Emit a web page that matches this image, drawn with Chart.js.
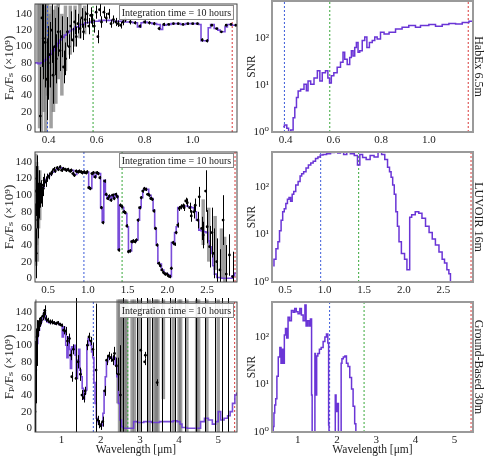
<!DOCTYPE html>
<html>
<head>
<meta charset="utf-8">
<title>Spectra and SNR</title>
<script src="https://cdn.jsdelivr.net/npm/chart.js@4.4.1/dist/chart.umd.min.js"></script>
<style>
  html, body { margin: 0; padding: 0; background: #fff; }
  #wrap { position: relative; width: 485px; height: 459px; overflow: hidden; }
  canvas { position: absolute; }
</style>
</head>
<body>
<div id="wrap">
  <canvas id="habexSpec" width="245" height="148" style="left:0;top:0"></canvas>
  <canvas id="habexSnrChart" width="240" height="148" style="left:245px;top:0"></canvas>
  <canvas id="luvoirSpec" width="245" height="150" style="left:0;top:148px"></canvas>
  <canvas id="luvoirSnrChart" width="240" height="150" style="left:245px;top:148px"></canvas>
  <canvas id="groundSpec" width="245" height="161" style="left:0;top:298px"></canvas>
  <canvas id="groundSnrChart" width="240" height="161" style="left:245px;top:298px"></canvas>
</div>
<script>
// ---- HabEx 6.5m ----
const habexWl = [0.34,0.35,0.36,0.37,0.38,0.39,0.40,0.41,0.42,0.43,0.44,0.45,0.46,0.47,0.48,0.49,0.50,
  0.52,0.54,0.56,0.58,0.60,0.62,0.64,0.66,0.68,0.70,0.72,0.74,0.76,0.78,0.79,0.80,0.82,0.84,0.86,0.87,0.88,
  0.90,0.92,0.94,0.96,0.98,1.00,1.02,1.03,1.04,1.06,1.07,1.08,1.10,1.11,1.12,1.13,1.14,1.15,1.16,1.17,1.18];
const habexModel = [80,80,79,80,82,84,87,91,95,100,104,108,111,114,117,119,121,
  124,127,129,130,131,132,132,132,131,131,130,130,129,124,129,130,129,128,127,121,126,
  127,128,128,127,128,128,128,127,107,107,123,127,122,120,118,118,124,127,127,126,126];
const habexObsWl = [0.365,0.372,0.378,0.385,0.392,0.398,0.405,0.412,0.418,0.425,
  0.432,0.44,0.447,0.455,0.462,0.47,0.478,0.485,0.492,0.50,
  0.508,0.515,0.522,0.53,0.538,0.545,0.552,0.56,0.567,0.575,
  0.582,0.59,0.598,0.605,0.612,0.62,0.63,0.64,0.65,0.66,
  0.67,0.68,0.69,0.70,0.71,0.72,0.74,0.76,0.78,0.80,
  0.82,0.84,0.86,0.88,0.90,0.92,0.94,0.96,0.98,1.00,
  1.02,1.04,1.06,1.08,1.10,1.12,1.14,1.16,1.18];
const habexObs = [15,135,110,105,60,80,90,120,65,100,
  85,118,95,112,75,85,118,100,125,108,
  130,112,128,122,135,118,133,140,125,138,
  132,125,142,112,145,130,142,135,140,128,
  133,130,128,126,130,133,130,129,125,130,
  129,128,122,127,127,128,128,127,128,128,
  128,108,107,126,122,118,126,127,126];
const habexErr = [60,60,50,55,50,45,40,40,35,35,
  30,30,25,25,20,20,18,15,18,15,
  15,12,12,12,12,10,10,12,10,10,
  8,8,8,8,8,7,7,6,6,5,
  5,5,4,4,4,3,3,2,2,2,
  2,2,2,2,1,1,1,1,1,1,
  1,2,2,1,1,1,1,1,1];
const habexGrayWl = [0.355,0.362,0.37,0.38,0.388,0.395,0.402,0.41,0.42,0.43,0.44,0.455,0.47,0.49,0.51,0.53,0.55];
const habexGrayLo = [80,0,-5,20,-5,40,50,0,20,30,60,40,70,90,100,110,115];
const habexGrayHi = [155,155,155,150,155,155,140,150,145,150,155,140,150,150,150,155,150];
const habexSnrWl = [0.39,0.40,0.41,0.415,0.428,0.435,0.442,0.449,0.456,0.47,
  0.484,0.49,0.498,0.512,0.526,0.54,0.547,0.56,0.574,0.58,
  0.588,0.595,0.609,0.623,0.637,0.644,0.651,0.665,0.672,0.679,
  0.686,0.693,0.70,0.707,0.714,0.728,0.735,0.746,0.756,0.77,
  0.777,0.79,0.805,0.82,0.847,0.874,0.902,0.93,0.958,0.972,
  0.986,1.014,1.042,1.07,1.098,1.126,1.154,1.182];
const habexSnr = [1.3,1.4,1.2,0.5,1.1,2.0,3.3,5.4,7.4,8.1,
  10.3,7.5,12,10.3,14,20,12,18,20,14,
  11,15.6,18,23.6,30,49,35,27,38,53,
  41,62,79,49,53,87,103,62,79,87,
  103,94,130,120,130,152,166,182,166,182,
  182,190,175,190,201,195,210,222];
const habexMarks = [0.395, 0.585, 1.165];

// ---- LUVOIR 16m ----
const luvoirWl = [0.34,0.36,0.38,0.40,0.42,0.44,0.46,0.48,0.50,0.53,
  0.56,0.60,0.65,0.70,0.75,0.80,0.84,0.88,0.92,0.96,
  1.00,1.02,1.04,1.06,1.09,1.12,1.15,1.17,1.19,1.21,
  1.23,1.25,1.27,1.29,1.31,1.33,1.35,1.37,1.39,1.40,
  1.42,1.44,1.46,1.48,1.50,1.52,1.54,1.56,1.59,1.62,
  1.64,1.66,1.68,1.70,1.72,1.75,1.78,1.81,1.83,1.85,
  1.87,1.89,1.91,1.94,1.97,2.00,2.02,2.04,2.06,2.08,
  2.10,2.12,2.14,2.17,2.20,2.24,2.28,2.32,2.35,2.38,
  2.41,2.44,2.47,2.50,2.52,2.54,2.56,2.58,2.60,2.64,
  2.70,2.76,2.80,2.83,2.86];
const luvoirModel = [78,82,88,95,103,110,115,119,122,125,
  128,131,133,131,130,130,125,129,128,127,
  128,108,108,127,122,127,126,85,68,118,
  100,96,99,95,100,97,101,99,35,87,
  87,85,80,78,62,32,33,45,44,46,
  70,85,97,106,108,107,100,96,82,60,
  40,18,17,10,6,5,4,2,43,42,
  55,62,85,86,87,87,86,85,80,70,
  58,57,56,55,45,38,30,15,5,1,
  0,0,0,3,6];
const luvoirObsWl = [0.34,0.345,0.35,0.355,0.36,0.365,0.37,0.375,0.38,0.39,
  0.40,0.41,0.42,0.43,0.44,0.45,0.47,0.49,0.51,0.53,
  0.55,0.57,0.59,0.61,0.63,0.65,0.67,0.69,0.71,0.73,
  0.75,0.77,0.79,0.81,0.83,0.85,0.87,0.89,0.91,0.93,
  0.95,0.97,0.99,1.01,1.03,1.05,1.07,1.09,1.11,1.13,
  1.15,1.17,1.19,1.21,1.23,1.25,1.27,1.29,1.31,1.33,
  1.35,1.37,1.39,1.41,1.43,1.45,1.47,1.49,1.51,1.53,
  1.55,1.57,1.59,1.61,1.63,1.65,1.67,1.69,1.71,1.73,
  1.75,1.77,1.79,1.81,1.83,1.85,1.87,1.89,1.91,1.93,
  1.95,1.97,1.99,2.01,2.03,2.05,2.07,2.09,2.11,2.13,
  2.15,2.17,2.19,2.21,2.23,2.25,2.28,2.30,2.33,2.35,
  2.38,2.40,2.43,2.45,2.48,2.50,2.53,2.56,2.58,2.62,
  2.66,2.70,2.74,2.78,2.82];
const luvoirObs = [55,105,30,120,85,100,70,95,110,90,
  100,104,98,112,108,118,116,121,123,126,
  128,131,129,133,131,134,130,132,131,130,
  131,129,130,126,124,129,128,129,128,127,
  128,127,128,109,108,126,127,122,127,126,
  121,85,67,117,101,96,99,94,100,96,
  101,98,34,88,86,80,79,63,32,33,
  44,45,44,46,70,85,97,105,108,107,
  101,100,96,95,81,60,40,18,15,10,
  7,5,5,3,2,12,43,41,55,64,
  84,86,87,85,93,91,85,75,80,88,
  70,98,60,52,105,62,38,55,30,20,
  10,70,5,28,2];
const luvoirErr = [35,30,30,28,25,25,22,20,20,18,
  15,14,12,10,9,8,6,5,4,3,
  3,3,2,2,2,2,2,2,2,2,
  2,2,2,2,2,2,2,2,2,2,
  2,2,2,2,2,2,2,2,2,2,
  2,2,2,2,2,2,2,2,2,2,
  2,2,2,2,2,2,2,2,2,2,
  2,2,2,2,2,2,2,2,2,2,
  2,2,2,2,2,2,2,2,2,2,
  2,2,2,2,2,2,2,2,2,3,
  3,3,3,4,4,5,6,7,8,8,
  10,12,14,16,25,20,25,30,30,28,
  25,30,35,25,30];
const luvoirGrayWl = [0.345,0.355,0.365,0.38,0.395,2.45,2.52,2.6,2.68,2.72];
const luvoirGrayLo = [15,40,20,60,70,40,20,10,0,-5];
const luvoirGrayHi = [150,140,135,125,130,95,85,75,60,50];
const luvoirSnrWl = [0.35,0.37,0.40,0.42,0.44,0.46,0.48,0.50,0.52,0.54,
  0.56,0.58,0.60,0.62,0.65,0.68,0.70,0.72,0.75,0.78,
  0.81,0.84,0.87,0.90,0.93,0.96,1.00,1.05,1.10,1.15,
  1.18,1.22,1.26,1.30,1.35,1.40,1.43,1.46,1.50,1.55,
  1.60,1.65,1.70,1.74,1.78,1.81,1.83,1.85,1.87,1.89,
  1.91,1.93,1.95,1.99,2.03,2.05,2.07,2.08,2.12,2.17,
  2.21,2.25,2.30,2.34,2.38,2.42,2.47,2.50,2.53,2.56,
  2.58,2.60];
const luvoirSnr = [2.2,3,5,7,12,20,30,35,45,55,
  60,50,70,80,110,130,170,190,210,250,
  290,320,350,400,430,470,480,500,530,550,
  520,540,480,540,500,460,290,480,420,380,
  460,430,540,480,380,260,210,160,110,70,
  30,15,7,4,3,1.8,1.8,23,26,30,
  28,22,15,11,8,6,4.3,3,2.5,1.8,
  1.5,0.5];
const luvoirMarks = [0.95, 1.43, 2.85];

// ---- Ground-Based 30m ----
const groundWl = [0.32,0.34,0.36,0.38,0.40,0.42,0.45,0.48,0.51,0.54,
  0.57,0.60,0.65,0.70,0.75,0.80,0.85,0.90,0.95,1.00,
  1.03,1.06,1.09,1.12,1.15,1.18,1.21,1.24,1.27,1.30,
  1.33,1.36,1.39,1.42,1.45,1.48,1.51,1.54,1.57,1.60,
  1.63,1.66,1.69,1.72,1.75,1.78,1.81,1.84,1.87,1.90,
  1.93,1.96,2.00,2.04,2.07,2.10,2.13,2.16,2.20,2.25,
  2.30,2.35,2.39,2.43,2.47,2.51,2.55,2.60,2.70,2.80,
  2.88,3.00,3.20,3.40,3.60,3.80,3.90,4.00,4.05,4.10,
  4.30,4.50,4.60,4.70,4.80,4.90,4.97,5.03,5.10,5.20,
  5.28,5.33,5.40,5.45,5.49];
const groundModel = [78,84,92,102,112,118,124,128,132,136,
  140,130,128,127,128,127,126,127,125,124,
  110,122,118,100,85,110,95,72,98,95,
  100,88,60,82,95,70,62,48,35,42,
  46,100,108,105,100,92,85,55,30,12,
  8,5,4,3,18,45,62,80,85,86,
  84,85,76,62,30,10,2,0,0,0,
  8,7,8,7,8,8,9,8,5,1,
  0,0,8,12,10,5,8,20,10,12,
  15,20,30,40,42];
const groundObsWl = [0.32,0.33,0.34,0.35,0.36,0.37,0.38,0.40,0.42,0.45,
  0.48,0.52,0.55,0.57,0.60,0.65,0.70,0.75,0.80,0.85,
  0.90,0.95,1.00,1.05,1.10,1.15,1.20,1.23,1.26,1.30,
  1.37,1.42,1.48,1.52,1.56,1.60,1.66,1.70,1.75,1.80,
  1.88,1.92,1.96,2.00,2.05,2.10,2.15,2.20,2.25,2.30,
  2.35,2.40,2.45,2.50,2.58,2.92,3.02,3.12,3.14,3.18,
  3.31,3.44,3.56,3.78,3.90,4.16,4.42,4.67,4.93,5.10,
  5.25];
const groundObs = [20,55,70,90,100,110,115,120,125,128,
  130,135,138,142,132,130,128,128,127,126,
  127,125,124,118,117,105,108,88,62,95,
  60,80,65,40,37,45,100,110,105,95,
  70,10,5,3,8,45,82,87,85,82,
  90,75,65,40,-150,250,94,80,88,-120,
  260,55,-150,240,-200,260,-140,250,-160,240,
  -130];
const groundErr = [60,50,40,30,25,20,15,10,8,6,
  5,5,5,6,4,3,3,3,2,2,
  2,2,2,5,5,6,6,6,6,6,
  400,8,8,6,6,5,6,5,5,8,
  80,5,5,5,6,6,6,5,5,6,
  8,10,20,60,400,300,500,4,4,400,
  300,4,400,300,400,300,350,300,380,300,
  350];
const groundGrayWl = [0.32,2.44,2.48,2.52,2.56,2.62,2.66,2.8,2.86,2.98,3.24,3.38,3.42,3.46,3.6,3.85,4.0,4.04,4.2,4.45,4.5,4.71,5.0];
const groundGrayLo = [-5,30,-5,-5,-5,-5,-5,-5,-5,-5,-5,-5,-5,-5,35,-5,-5,-5,-5,-5,-5,-5,-5];
const groundGrayHi = [155,155,155,155,155,155,155,155,155,155,155,155,155,155,155,155,155,155,155,155,155,155,155];
const groundSnrWl = [0.36,0.38,0.40,0.42,0.45,0.48,0.52,0.56,0.58,0.61,
  0.64,0.67,0.70,0.73,0.77,0.81,0.86,0.90,0.94,0.98,
  1.03,1.07,1.11,1.16,1.20,1.22,1.27,1.30,1.34,1.36,
  1.37,1.43,1.44,1.46,1.47,1.49,1.53,1.57,1.62,1.67,
  1.71,1.75,1.78,1.79,1.80,1.95,1.96,1.99,2.02,2.05,
  2.10,2.11,2.14,2.18,2.22,2.26,2.30,2.35,2.39,2.43,
  2.47,2.49];
const groundSnr = [0.5,1.3,2.5,3.7,5,15,38,60,28,55,
  28,110,150,95,260,220,360,330,400,340,
  310,400,290,220,470,170,220,170,240,6,
  0.5,0.5,45,10,6,40,45,55,60,80,
  100,115,75,1.4,0.5,0.5,6,2.7,4,0.5,
  0.5,28,35,38,40,28,24,14,8,3.5,
  1.5,0.5];
const groundMarks = [1.81, 2.69, 5.42];

// tick values
const habexTicks = [0.4, 0.6, 0.8, 1.0];
const luvoirTicks = [0.5, 1.0, 1.5, 2.0, 2.5];
const groundTicks = [1, 2, 3, 4, 5];
const fluxTicks = [0, 20, 40, 60, 80, 100, 120, 140];
const snrTicks = [1, 10, 100];
const snrTickLabels = ['10⁰', '10¹', '10²'];

// ---- common styling ----
Chart.defaults.font.family = "'Liberation Serif', 'DejaVu Serif', serif";
Chart.defaults.font.size = 11;
Chart.defaults.color = '#222';

const modelColor = 'rgba(108, 58, 214, 0.9)';
const snrColor = '#6a35d6';
const markColors = ['#3b5bd9', '#38a83a', '#d93a3a'];
const FLUX_MIN = -4.5, FLUX_MAX = 152;

function pts(xs, ys) {
    return xs.map((v, i) => ({ x: v, y: ys[i] }));
}

// dashed vertical markers as tiny two-point datasets
function markSets(marks, lo, hi) {
    return marks.map((m, i) => ({
        data: [{ x: m, y: lo }, { x: m, y: hi }],
        borderColor: markColors[i],
        borderWidth: 1,
        borderDash: [2, 2],
        pointRadius: 0,
        clip: 0,
        order: 5
    }));
}

// error bars: gray wide ones under the lines, black thin ones on top
// (overTop lets the bars poke a few px above the frame, as in the bottom panel)
function makeBars(b) {
    function clipArea(chart) {
        const a = chart.chartArea;
        const extra = b.overTop || 0;
        chart.ctx.beginPath();
        chart.ctx.rect(a.left, a.top - extra, a.right - a.left, a.bottom - a.top + extra);
        chart.ctx.clip();
    }
    return {
        id: 'errorBars',
        beforeDatasetsDraw(chart) {
            const { ctx, scales: { x, y } } = chart;
            ctx.save();
            clipArea(chart);
            ctx.strokeStyle = 'rgba(120,120,120,0.7)';
            ctx.lineWidth = 3.5;
            b.grayWl.forEach((w, i) => {
                const px = x.getPixelForValue(w);
                ctx.beginPath();
                ctx.moveTo(px, y.getPixelForValue(b.grayLo[i]));
                ctx.lineTo(px, y.getPixelForValue(b.grayHi[i]));
                ctx.stroke();
            });
            ctx.restore();
        },
        afterDatasetsDraw(chart) {
            const { ctx, scales: { x, y } } = chart;
            ctx.save();
            clipArea(chart);
            ctx.strokeStyle = '#000';
            ctx.lineWidth = 1;
            b.wl.forEach((w, i) => {
                const px = Math.round(x.getPixelForValue(w)) + 0.5;
                ctx.beginPath();
                ctx.moveTo(px, y.getPixelForValue(b.val[i] - b.err[i]));
                ctx.lineTo(px, y.getPixelForValue(b.val[i] + b.err[i]));
                ctx.stroke();
            });
            ctx.restore();
        }
    };
}

// "Integration time" box in the upper right corner
function makeNote(text) {
    return {
        id: 'noteBox',
        afterDraw(chart) {
            const { ctx, chartArea: a } = chart;
            const w = 115, h = 15;
            const left = a.right - 3 - w, top = a.top + 1;
            ctx.save();
            ctx.fillStyle = 'rgba(255,255,255,0.92)';
            ctx.fillRect(left, top, w, h);
            ctx.strokeStyle = '#888';
            ctx.lineWidth = 1;
            ctx.strokeRect(left + 0.5, top + 0.5, w - 1, h - 1);
            ctx.fillStyle = '#222';
            ctx.font = "10px 'Liberation Serif', 'DejaVu Serif', serif";
            ctx.textAlign = 'center';
            ctx.textBaseline = 'middle';
            ctx.fillText(text, left + w / 2, top + h / 2 + 0.5);
            ctx.restore();
        }
    };
}

function makeFrame(color, width) {
    return {
        id: 'frame',
        afterDatasetsDraw(chart) {
            const { ctx, chartArea: a } = chart;
            ctx.save();
            ctx.strokeStyle = color;
            ctx.lineWidth = width;
            ctx.strokeRect(a.left, a.top, a.right - a.left, a.bottom - a.top);
            ctx.restore();
        }
    };
}

function fixedWidth(w) {
    return function (axis) { axis.width = w; axis.paddingTop = 0; axis.paddingBottom = 0; };
}
function fixedHeight(h) {
    return function (axis) { axis.height = h; axis.paddingLeft = 0; axis.paddingRight = 0; };
}

function xAxis(range, ticks, decimals, height, withTitle) {
    return {
        type: 'linear',
        min: range[0], max: range[1],
        bounds: 'data',
        grid: { display: false, drawTicks: false },
        border: { display: false },
        ticks: {
            padding: 2, maxRotation: 0, autoSkip: false,
            callback: v => v.toFixed(decimals)
        },
        afterBuildTicks: s => { s.ticks = ticks.map(v => ({ value: v })); },
        afterFit: fixedHeight(height),
        title: {
            display: withTitle,
            text: 'Wavelength [μm]',
            font: { size: 11.5 },
            padding: { top: 0, bottom: 2 }
        }
    };
}

function specChart(id, o) {
    return new Chart(document.getElementById(id), {
        type: 'line',
        data: {
            datasets: [
                {
                    data: pts(o.obsWl, o.obs), showLine: false,
                    pointRadius: 1.4, pointBackgroundColor: '#000', pointBorderWidth: 0,
                    clip: 0, order: 0
                },
                {
                    data: pts(o.wl, o.model), borderColor: modelColor, borderWidth: 1.6,
                    pointRadius: 0, stepped: 'middle', clip: 0, order: 1
                },
                ...markSets(o.marks, FLUX_MIN, FLUX_MAX)
            ]
        },
        options: {
            responsive: false,
            animation: false,
            layout: { padding: { top: o.top, right: 8, left: 0, bottom: 0 } },
            plugins: { legend: { display: false }, tooltip: { enabled: false } },
            scales: {
                x: xAxis(o.range, o.ticks, o.decimals, o.xHeight, o.xTitle),
                y: {
                    type: 'linear', min: FLUX_MIN, max: FLUX_MAX, bounds: 'data',
                    grid: { display: false, drawTicks: false },
                    border: { display: false },
                    ticks: { padding: 3 },
                    afterBuildTicks: s => { s.ticks = fluxTicks.map(v => ({ value: v })); },
                    afterFit: fixedWidth(35),
                    title: {
                        display: true, text: 'Fₚ/Fₛ (×10⁹)',
                        font: { size: 13 }, padding: { top: 2, bottom: 0 }
                    }
                }
            }
        },
        plugins: [
            makeBars({ wl: o.obsWl, val: o.obs, err: o.err, grayWl: o.grayWl, grayLo: o.grayLo,
                       grayHi: o.grayHi, overTop: o.overTop }),
            makeFrame('#444', 1),
            makeNote('Integration time = 10 hours')
        ]
    });
}

function snrChart(id, o) {
    return new Chart(document.getElementById(id), {
        type: 'line',
        data: {
            datasets: [
                {
                    data: pts(o.wl, o.snr), borderColor: snrColor, borderWidth: 1.5,
                    pointRadius: 0, stepped: 'middle', clip: 0, order: 0
                },
                ...markSets(o.marks, 1, o.max)
            ]
        },
        options: {
            responsive: false,
            animation: false,
            layout: { padding: { top: o.top, right: 0, left: 0, bottom: 0 } },
            plugins: { legend: { display: false }, tooltip: { enabled: false } },
            scales: {
                x: xAxis(o.range, o.ticks, o.decimals, o.xHeight, o.xTitle),
                y: {
                    type: 'logarithmic', min: 1, max: o.max, bounds: 'data',
                    grid: { display: false, drawTicks: false },
                    border: { display: false },
                    ticks: { padding: 3, callback: v => snrTickLabels[snrTicks.indexOf(v)] },
                    afterBuildTicks: s => { s.ticks = snrTicks.map(v => ({ value: v })); },
                    afterFit: fixedWidth(27),
                    title: { display: true, text: 'SNR', font: { size: 11.5 }, padding: 0 }
                },
                side: {
                    type: 'linear', position: 'right', min: 0, max: 1,
                    grid: { display: false, drawTicks: false },
                    border: { display: false },
                    ticks: { display: false },
                    afterFit: fixedWidth(12),
                    title: { display: true, text: o.label, font: { size: 12 }, padding: 0 }
                }
            }
        },
        plugins: [makeFrame('#9a9a9a', 2)]
    });
}

// ---- build the six panels ----
specChart('habexSpec', {
    wl: habexWl, model: habexModel, obsWl: habexObsWl, obs: habexObs, err: habexErr,
    grayWl: habexGrayWl, grayLo: habexGrayLo, grayHi: habexGrayHi,
    marks: habexMarks, range: [0.343, 1.185], ticks: habexTicks, decimals: 1,
    top: 1, xHeight: 16, xTitle: false
});
snrChart('habexSnrChart', {
    wl: habexSnrWl, snr: habexSnr, marks: habexMarks, max: 600, label: 'HabEx 6.5m',
    range: [0.343, 1.185], ticks: habexTicks, decimals: 1, top: 1, xHeight: 16, xTitle: false
});
specChart('luvoirSpec', {
    wl: luvoirWl, model: luvoirModel, obsWl: luvoirObsWl, obs: luvoirObs, err: luvoirErr,
    grayWl: luvoirGrayWl, grayLo: luvoirGrayLo, grayHi: luvoirGrayHi,
    marks: luvoirMarks, range: [0.335, 2.875], ticks: luvoirTicks, decimals: 1,
    top: 4, xHeight: 16, xTitle: false
});
snrChart('luvoirSnrChart', {
    wl: luvoirSnrWl, snr: luvoirSnr, marks: luvoirMarks, max: 545, label: 'LUVOIR 16m',
    range: [0.335, 2.875], ticks: luvoirTicks, decimals: 1, top: 4, xHeight: 16, xTitle: false
});
specChart('groundSpec', {
    wl: groundWl, model: groundModel, obsWl: groundObsWl, obs: groundObs, err: groundErr,
    grayWl: groundGrayWl, grayLo: groundGrayLo, grayHi: groundGrayHi,
    marks: groundMarks, range: [0.32, 5.48], ticks: groundTicks, decimals: 0,
    top: 4, xHeight: 27, xTitle: true, overTop: 4
});
snrChart('groundSnrChart', {
    wl: groundSnrWl, snr: groundSnr, marks: groundMarks, max: 545, label: 'Ground-Based 30m',
    range: [0.34, 5.47], ticks: groundTicks, decimals: 0, top: 4, xHeight: 27, xTitle: true
});
</script>
</body>
</html>
